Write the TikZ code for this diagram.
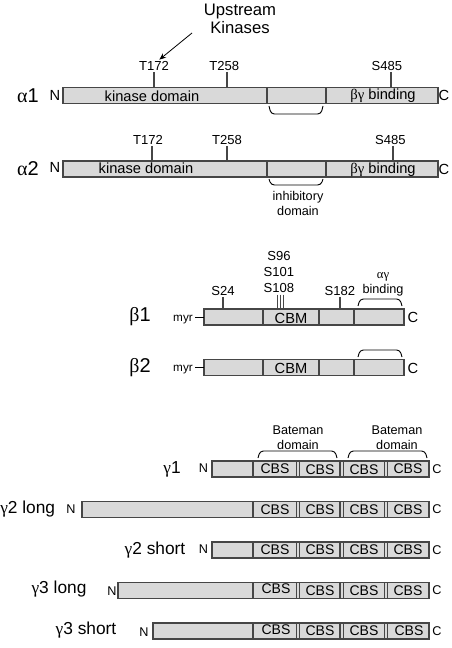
\documentclass[tikz,border=0pt]{standalone}
\usepackage{fontspec}
\setmainfont{Liberation Sans}
\newfontfamily\grk{Liberation Serif}
\usetikzlibrary{arrows.meta}
\definecolor{barfill}{RGB}{217,217,217}
\definecolor{barline}{RGB}{70,70,70}

\tikzset{
  bar/.style={draw=barline, fill=barfill, line width=0.9pt},
  divider/.style={draw=barline, line width=0.9pt},
  sitetick/.style={draw=barline, line width=0.8pt},
  hook/.style={draw=black, line width=0.7pt, rounded corners=2.5pt},
  domtext/.style={font=\fontsize{11}{12}\selectfont, inner sep=0pt},
  sitetext/.style={font=\fontsize{9.8}{11}\selectfont, inner sep=1pt},
  smalltext/.style={font=\fontsize{9.5}{11}\selectfont, align=center, inner sep=0pt},
  cbstext/.style={font=\fontsize{10.5}{11}\selectfont, inner sep=0pt},
  protname/.style={font=\fontsize{15}{16}\selectfont, inner sep=0pt},
  gamname/.style={font=\fontsize{13}{14}\selectfont, inner sep=0pt},
  termtext/.style={font=\fontsize{11}{12}\selectfont, inner sep=0pt},
  gamterm/.style={font=\fontsize{9.5}{10}\selectfont, inner sep=0pt},
  myrtext/.style={font=\fontsize{8.8}{10}\selectfont, inner sep=0pt}
}

\begin{document}
\begin{tikzpicture}[x=0.75pt,y=0.75pt,yscale=-1,xscale=1]
\useasboundingbox (0,0) rectangle (452,648);

% ---------- alpha1 ----------
%Shape: Rectangle
\draw [bar] (63,87.5) coordinate (a1L) rectangle (438,103.5) coordinate (a1R);
\draw [divider] (267,87.5) -- (267,103.5) (326,87.5) -- (326,103.5);
% Text Node
\node [protname] (a1) at (28,95.5) {{\grk α}1};
\node [termtext] (a1n) at (55,95) {N};
\node [termtext] (a1c) at (444,95.5) {C};
\node [domtext] (a1kin) at (152,96) {kinase domain};
\node [domtext] (a1bg) at (383,96) {{\grk βγ} binding};
% sites
\coordinate (a1p172) at (154,72);
\coordinate (a1p258) at (227,72);
\coordinate (a1p485) at (391,72);
\node [sitetext, above] (a1t172) at (a1p172) {T172};
\node [sitetext, above] (a1t258) at ([xshift=-2pt]a1p258) {T258};
\node [sitetext, above] (a1s485) at ([xshift=-3pt]a1p485) {S485};
\draw [sitetick] (a1p172) -- (a1p172 |- a1L);
\draw [sitetick] (a1p258) -- (a1p258 |- a1L);
\draw [sitetick] (a1p485) -- (a1p485 |- a1L);
% upstream kinases
\node [font=\fontsize{12.5}{14}\selectfont, align=center, inner sep=0pt] (upk) at (240,19) {Upstream\\Kinases};
\coordinate (upkfoot) at (192,33);
\draw [line width=0.6pt, -{Stealth[length=5pt,width=4pt]}] (upkfoot) -- ([xshift=4pt]a1t172.north);
%Straight Lines: bracket
\draw [hook] (269,106) -- (271,114) -- (321,114) -- (323,106);

% ---------- alpha2 ----------
\draw [bar] (63,161) coordinate (a2L) rectangle (438,177) coordinate (a2R);
\draw [divider] (267,161) -- (267,177) (326,161) -- (326,177);
\node [protname] (a2) at (28,169) {{\grk α}2};
\node [termtext] (a2n) at (55,167) {N};
\node [termtext] (a2c) at (444,169.5) {C};
\node [domtext] (a2kin) at (146,168.5) {kinase domain};
\node [domtext] (a2bg) at (383,169.5) {{\grk βγ} binding};
\coordinate (a2p172) at (152,146);
\coordinate (a2p258) at (227,146);
\coordinate (a2p485) at (393,146);
\node [sitetext, above] (a2t172) at ([xshift=-3pt]a2p172) {T172};
\node [sitetext, above] (a2t258) at (a2p258) {T258};
\node [sitetext, above] (a2s485) at ([xshift=-2pt]a2p485) {S485};
\draw [sitetick] (a2p172) -- (a2p172 |- a2L);
\draw [sitetick] (a2p258) -- (a2p258 |- a2L);
\draw [sitetick] (a2p485) -- (a2p485 |- a2L);
\draw [hook] (269,179) -- (271,185) -- (321,185) -- (323,179);
\node [smalltext] (inhib) at (298,203.5) {inhibitory\\domain};

% ---------- beta1 ----------
\draw [bar] (204,309) coordinate (b1L) rectangle (404,325) coordinate (b1R);
\draw [divider] (263,309) -- (263,325) (319,309) -- (319,325) (354,309) -- (354,325);
\node [protname] (b1) at (140,317) {{\grk β}1};
\node [myrtext] (b1myr) at (183,319.5) {myr};
\draw [line width=0.7pt] ([xshift=1.5pt]b1myr.east |- b1L) ++(0,8) -- (204,317);
\node [termtext] (b1c) at (413,317.5) {C};
\node [domtext] (b1cbm) at (291,318) {CBM};
\coordinate (b1p24) at (223,297);
\coordinate (b1p182) at (340,297);
\node [sitetext, above] (b1s24) at (b1p24) {S24};
\node [sitetext, above] (b1s182) at (b1p182) {S182};
\draw [sitetick] (b1p24) -- (b1p24 |- b1L);
\draw [sitetick] (b1p182) -- (b1p182 |- b1L);
\node [sitetext] (b1s108) at (279,288.5) {S108};
\node [sitetext] (b1s101) at (279,272.5) {S101};
\node [sitetext] (b1s96) at (279,256.5) {S96};
\draw [sitetick, line width=0.6pt] (277.5,294.5) -- (277.5,309) (280.3,294.5) -- (280.3,309) (283,294.5) -- (283,309);
\node [smalltext] (b1ag) at (383,284) {{\grk αγ}\\binding};
\draw [hook] (358,306) -- (360,299) -- (400,299) -- (402,306);

% ---------- beta2 ----------
\draw [bar] (204,359.5) coordinate (b2L) rectangle (404,375.5) coordinate (b2R);
\draw [divider] (263,359.5) -- (263,375.5) (319,359.5) -- (319,375.5) (354,359.5) -- (354,375.5);
\node [protname] (b2) at (140,368) {{\grk β}2};
\node [myrtext] (b2myr) at (183,370) {myr};
\draw [line width=0.7pt] ([xshift=1.5pt]b2myr.east |- b2L) ++(0,8) -- (204,367.5);
\node [termtext] (b2c) at (413,368) {C};
\node [domtext] (b2cbm) at (291,368.5) {CBM};
\draw [hook] (358,357) -- (360,350) -- (400,350) -- (402,357);

% ---------- gamma1 ----------
\node [smalltext] (bat1) at (298,438) {Bateman\\domain};
\node [smalltext] (bat2) at (397,438) {Bateman\\domain};
\draw [hook] (258,458) -- (260,451) -- (335,451) -- (337,458);
\draw [hook] (348,458) -- (350,451) -- (425,451) -- (427,458);
\draw [bar] (212,461) coordinate (g1L) rectangle (429,477) coordinate (g1R);
\draw [divider] (253,461) -- (253,477) (296.5,461) -- (296.5,477) (299.3,461) -- (299.3,477) (340,461) -- (340,477) (343.5,461) -- (343.5,477) (384.5,461) -- (384.5,477) (387.3,461) -- (387.3,477);
\node [gamname] (g1) at (172,469) {{\grk γ}1};
\node [gamterm] (g1n) at (203.5,468) {N};
\node [gamterm] (g1c) at (437,469) {C};
\node [cbstext] (g1a) at (275,469) {CBS};
\node [cbstext] (g1b) at (320,470) {CBS};
\node [cbstext] (g1c3) at (364,470) {CBS};
\node [cbstext] (g1d) at (408,469) {CBS};

% ---------- gamma2 long ----------
\draw [bar] (82,501.5) coordinate (g2lL) rectangle (429,517.5) coordinate (g2lR);
\draw [divider] (253,501.5) -- (253,517.5) (296.5,501.5) -- (296.5,517.5) (299.3,501.5) -- (299.3,517.5) (340,501.5) -- (340,517.5) (343.5,501.5) -- (343.5,517.5) (384.5,501.5) -- (384.5,517.5) (387.3,501.5) -- (387.3,517.5);
\node [gamname, anchor=west] (g2l) at (0,509.5) {{\grk γ}2 long};
\node [gamterm] (g2ln) at (71,509.5) {N};
\node [gamterm] (g2lc) at (437,509.5) {C};
\node [cbstext] (g2la) at (275,509.5) {CBS};
\node [cbstext] (g2lb) at (320,509.5) {CBS};
\node [cbstext] (g2lc3) at (364,509.5) {CBS};
\node [cbstext] (g2ld) at (408,509.5) {CBS};

% ---------- gamma2 short ----------
\draw [bar] (212,542) coordinate (g2sL) rectangle (429,558) coordinate (g2sR);
\draw [divider] (253,542) -- (253,558) (296.5,542) -- (296.5,558) (299.3,542) -- (299.3,558) (340,542) -- (340,558) (343.5,542) -- (343.5,558) (384.5,542) -- (384.5,558) (387.3,542) -- (387.3,558);
\node [gamname] (g2s) at (155,550) {{\grk γ}2 short};
\node [gamterm] (g2sn) at (203.5,549.5) {N};
\node [gamterm] (g2sc) at (437,550) {C};
\node [cbstext] (g2sa) at (275,550) {CBS};
\node [cbstext] (g2sb) at (320,550) {CBS};
\node [cbstext] (g2sc3) at (364,550) {CBS};
\node [cbstext] (g2sd) at (408,550) {CBS};

% ---------- gamma3 long ----------
\draw [bar] (118,582.5) coordinate (g3lL) rectangle (429,598.5) coordinate (g3lR);
\draw [divider] (253,582.5) -- (253,598.5) (296.5,582.5) -- (296.5,598.5) (299.3,582.5) -- (299.3,598.5) (340,582.5) -- (340,598.5) (343.5,582.5) -- (343.5,598.5) (384.5,582.5) -- (384.5,598.5) (387.3,582.5) -- (387.3,598.5);
\node [gamname] (g3l) at (59,589.5) {{\grk γ}3 long};
\node [gamterm] (g3ln) at (112,591) {N};
\node [gamterm] (g3lc) at (437,590) {C};
\node [cbstext] (g3la) at (276,589) {CBS};
\node [cbstext] (g3lb) at (320,590.5) {CBS};
\node [cbstext] (g3lc3) at (364,590.5) {CBS};
\node [cbstext] (g3ld) at (408,590.5) {CBS};

% ---------- gamma3 short ----------
\draw [bar] (153,623) coordinate (g3sL) rectangle (429,639) coordinate (g3sR);
\draw [divider] (253,623) -- (253,639) (296.5,623) -- (296.5,639) (299.3,623) -- (299.3,639) (340,623) -- (340,639) (343.5,623) -- (343.5,639) (384.5,623) -- (384.5,639) (387.3,623) -- (387.3,639);
\node [gamname] (g3s) at (86,630.5) {{\grk γ}3 short};
\node [gamterm] (g3sn) at (144,632) {N};
\node [gamterm] (g3sc) at (437,631) {C};
\node [cbstext] (g3sa) at (276,629.5) {CBS};
\node [cbstext] (g3sb) at (320,631) {CBS};
\node [cbstext] (g3sc3) at (364,631) {CBS};
\node [cbstext] (g3sd) at (409,631) {CBS};

\end{tikzpicture}
\end{document}
